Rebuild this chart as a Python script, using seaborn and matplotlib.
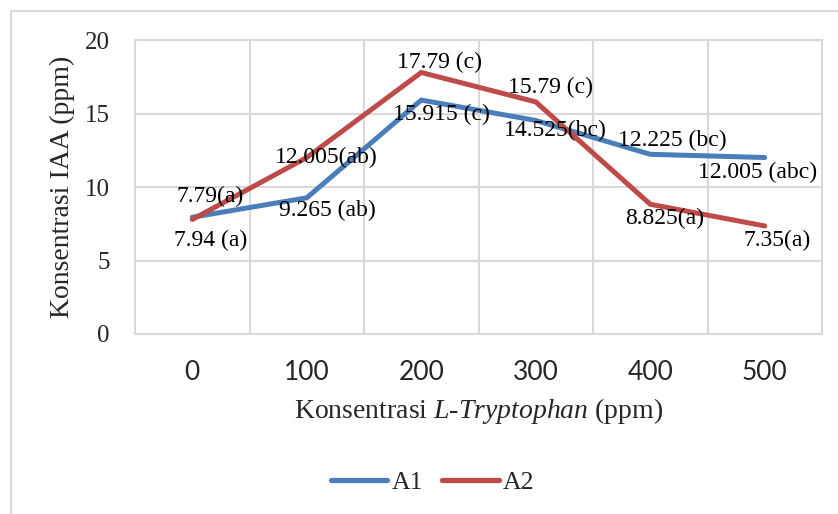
import pandas as pd
import seaborn as sns
import matplotlib.pyplot as plt
from matplotlib.lines import Line2D

# data
doses = ["0", "100", "200", "300", "400", "500"]
a1_values = [7.94, 9.265, 15.915, 14.525, 12.225, 12.005]
a2_values = [7.79, 12.005, 17.79, 15.79, 8.825, 7.35]
a1_labels = ["7.94 (a)", "9.265 (ab)", "15.915 (c)", "14.525(bc)", "12.225 (bc)", "12.005 (abc)"]
a2_labels = ["7.79(a)", "12.005(ab)", "17.79 (c)", "15.79 (c)", "8.825(a)", "7.35(a)"]

# label offsets in pixels (dx, dy)
a1_offsets = [(18, -23), (21, -13), (20, -14), (20, -10), (22, 14), (-7, -15)]
a2_offsets = [(18, 23), (20, 0), (18, 10), (15, 14), (14, -14), (12, -14)]

BLUE = "#4a7ebb"
RED = "#be4b48"
GRID = "#d9d9d9"


def make_df():
    rows = []
    for i, d in enumerate(doses):
        rows.append([i, a1_values[i], "A1"])
        rows.append([i, a2_values[i], "A2"])
    return pd.DataFrame(rows, columns=["pos", "value", "series"])


def make_line_chart():
    sns.set_theme(style="white")
    plt.rcParams["font.family"] = ["Liberation Serif", "DejaVu Serif"]
    plt.rcParams["mathtext.fontset"] = "custom"
    plt.rcParams["mathtext.rm"] = "Liberation Serif"
    plt.rcParams["mathtext.it"] = "Liberation Serif:italic"

    fig = plt.figure(figsize=(8.38, 5.14), dpi=100)
    ax = fig.add_axes([135 / 838, 180 / 514, 687 / 838, 294 / 514])

    df = make_df()
    sns.lineplot(data=df, x="pos", y="value", hue="series",
                 palette={"A1": BLUE, "A2": RED}, linewidth=3.6,
                 ax=ax, legend=False)
    for line in ax.lines:
        line.set_solid_capstyle("round")
        line.set_solid_joinstyle("miter")

    # data labels
    for vals, labs, offs in [(a1_values, a1_labels, a1_offsets),
                             (a2_values, a2_labels, a2_offsets)]:
        for i, v in enumerate(vals):
            ax.annotate(labs[i], (i, v), xytext=offs[i], textcoords="offset pixels",
                        ha="center", va="center", fontsize=17, color="black")

    ax.set_xlim(-0.5, len(doses) - 0.5)
    ax.set_ylim(0, 20)
    ax.set_yticks([0, 5, 10, 15, 20])
    ax.set_xticks(range(len(doses)))
    ax.set_xticklabels(doses, fontfamily="Lato", fontsize=19)
    ax.set_xticks([i + 0.5 for i in range(len(doses) - 1)], minor=True)
    ax.grid(False)
    ax.yaxis.grid(True, color=GRID, linewidth=1.5)
    ax.xaxis.grid(True, which="minor", color=GRID, linewidth=1.5)
    ax.set_axisbelow(True)
    ax.tick_params(axis="both", which="both", length=0)
    ax.tick_params(axis="y", labelsize=18, pad=18)
    ax.tick_params(axis="x", pad=19)
    for sp in ax.spines.values():
        sp.set_color(GRID)
        sp.set_linewidth(1.5)

    ax.set_xlabel(r"Konsentrasi $\mathit{L}$-$\mathit{Tryptophan}$ (ppm)", fontsize=20, labelpad=8)
    ax.set_ylabel("Konsentrasi IAA (ppm)", fontsize=20, labelpad=7)

    handles = [Line2D([], [], color=BLUE, linewidth=3.8, solid_capstyle="round"),
               Line2D([], [], color=RED, linewidth=3.8, solid_capstyle="round")]
    fig.legend(handles, ["A1", "A2"], loc="center", bbox_to_anchor=(0.516, 0.062),
               ncol=2, frameon=False, fontsize=18.5, handlelength=2.2,
               handletextpad=0.15, columnspacing=0.75)

    # outer chart border
    fig.add_artist(Line2D([11 / 838, 1], [1 - 11 / 514, 1 - 11 / 514], color=GRID, linewidth=1.5))
    fig.add_artist(Line2D([11 / 838, 11 / 838], [0, 1 - 11 / 514], color=GRID, linewidth=1.5))

    fig.savefig("out.png", dpi=100)


if __name__ == "__main__":
    make_line_chart()
